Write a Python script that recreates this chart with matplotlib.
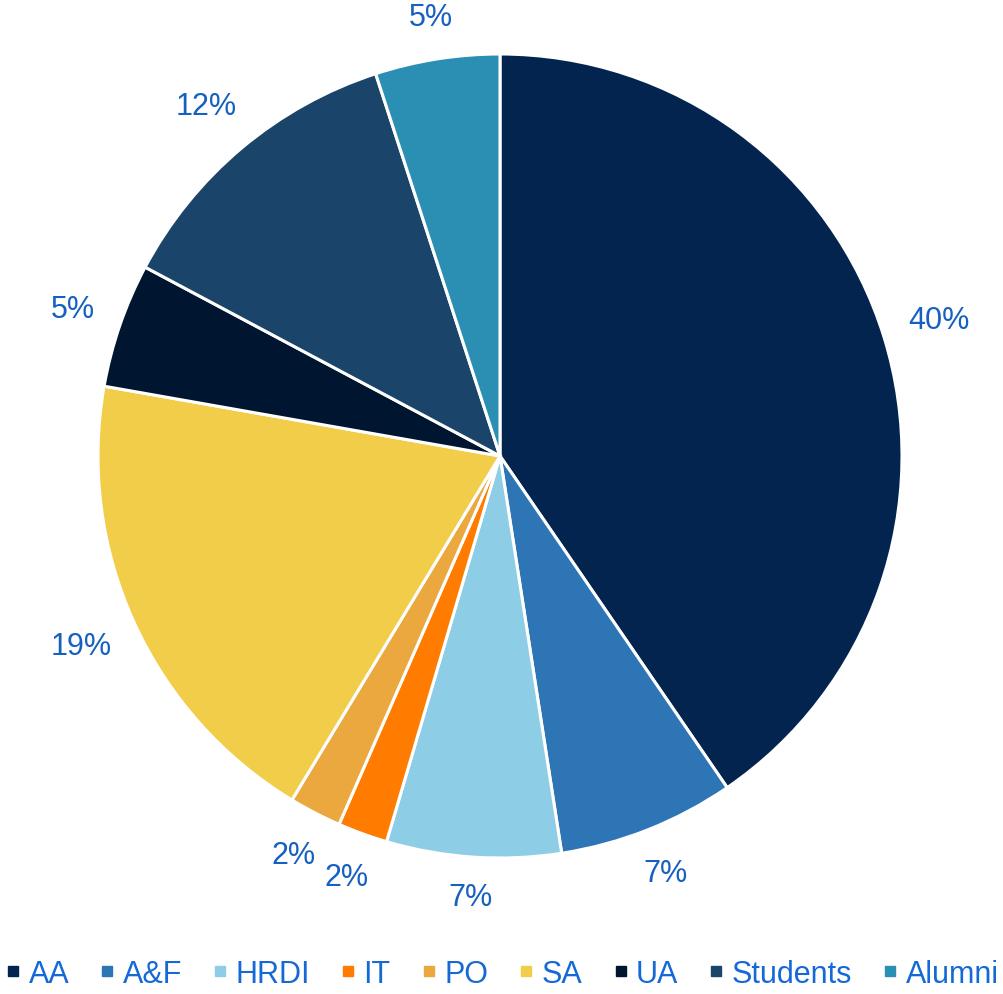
import numpy as np
import matplotlib.pyplot as plt
from matplotlib.lines import Line2D

plt.rcParams['font.family'] = ['Liberation Sans', 'DejaVu Sans']

categories = ["AA", "A&F", "HRDI", "IT", "PO", "SA", "UA", "Students", "Alumni"]
values = [40.4, 7.1, 7.0, 2.0, 2.1, 19.1, 5.0, 12.2, 5.0]
labels = ["40%", "7%", "7%", "2%", "2%", "19%", "5%", "12%", "5%"]
colors = ["#02244f", "#2e75b6", "#8ecde6", "#ff7c00", "#eba83f",
          "#f2cd4a", "#001630", "#1b446b", "#2b8fb3"]
label_color = "#1560c0"
legend_color = "#1468d8"

fig = plt.figure(figsize=(10.04, 9.95), dpi=100)
ax = fig.add_axes([-2.5 / 1004, 35.5 / 995, 1005 / 1004, 1005 / 995])

wedges, _ = ax.pie(
    values,
    colors=colors,
    startangle=90,
    counterclock=False,
    wedgeprops=dict(edgecolor="white", linewidth=2.2),
)
ax.set_xlim(-1.25, 1.25)
ax.set_ylim(-1.25, 1.25)
ax.set_aspect("equal")

# labels placed outside the slice end, box kept a fixed gap from the rim
fig.canvas.draw()
renderer = fig.canvas.get_renderer()
px_per_unit = ax.transData.transform((1, 0))[0] - ax.transData.transform((0, 0))[0]
gap = 24
for w, lab in zip(wedges, labels):
    mid = np.deg2rad((w.theta1 + w.theta2) / 2)
    d = np.array([np.cos(mid), np.sin(mid)])
    t = ax.text(0, 0, lab, ha="center", va="center",
                color=label_color, fontsize=22)
    bb = t.get_window_extent(renderer)
    support = abs(d[0]) * bb.width / 2 + abs(d[1]) * bb.height / 2
    r = 1 + (gap + support) / px_per_unit
    t.set_position(tuple(d * r))

handles = [
    Line2D([], [], marker="s", linestyle="none", markersize=7,
           markerfacecolor=c, markeredgecolor=c)
    for c in colors
]
fig.legend(
    handles, categories,
    loc="center", bbox_to_anchor=(0.5, 20 / 995),
    ncol=len(categories), frameon=False,
    fontsize=22, labelcolor=legend_color,
    handlelength=0.5, handletextpad=0.25, columnspacing=1.0,
    borderpad=0, borderaxespad=0,
)

fig.savefig("out.png", dpi=100)
plt.close(fig)
